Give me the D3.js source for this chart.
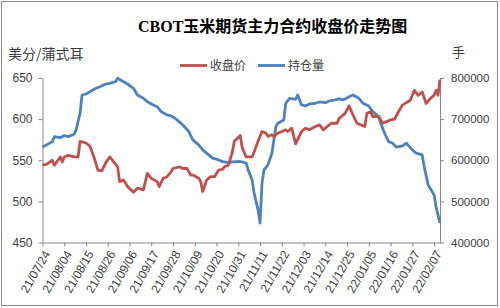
<!DOCTYPE html>
<html>
<head>
<meta charset="utf-8">
<script src="https://cdnjs.cloudflare.com/ajax/libs/d3/7.8.5/d3.min.js"></script>
<style>
    body { margin: 0; background: #fff; }
    svg { display: block; }
</style>
</head>
<body>
<svg id="chart"></svg>
<script>
// x axis tick labels (date axis, one tick every 11 days)
var tickLabels = ["21/07/24", "21/08/04", "21/08/15", "21/08/26", "21/09/06", "21/09/17", "21/09/28",
    "21/10/09", "21/10/20", "21/10/31", "21/11/11", "21/11/22", "21/12/03", "21/12/14", "21/12/25",
    "22/01/05", "22/01/16", "22/01/27", "22/02/07"];

var priceTicks = [450, 500, 550, 600, 650];
var oiTicks = [400000, 500000, 600000, 700000, 800000];

var seriesNames = ["收盘价", "持仓量"];

// closing price, cents / bushel
var priceDates = ["2021-07-24", "2021-07-26", "2021-07-29", "2021-07-30", "2021-08-02", "2021-08-03", "2021-08-04",
    "2021-08-06", "2021-08-09", "2021-08-11", "2021-08-12", "2021-08-15", "2021-08-17", "2021-08-19", "2021-08-21",
    "2021-08-23", "2021-08-25", "2021-08-27", "2021-08-29", "2021-08-31", "2021-09-01", "2021-09-03", "2021-09-05",
    "2021-09-08", "2021-09-10", "2021-09-13", "2021-09-15", "2021-09-17", "2021-09-20", "2021-09-21", "2021-09-23",
    "2021-09-25", "2021-09-27", "2021-09-28", "2021-10-01", "2021-10-03", "2021-10-05", "2021-10-07", "2021-10-08",
    "2021-10-11", "2021-10-12", "2021-10-13", "2021-10-15", "2021-10-17", "2021-10-19", "2021-10-21", "2021-10-23",
    "2021-10-24", "2021-10-26", "2021-10-28", "2021-10-29", "2021-11-01", "2021-11-02", "2021-11-04", "2021-11-07",
    "2021-11-08", "2021-11-10", "2021-11-12", "2021-11-14", "2021-11-15", "2021-11-17", "2021-11-18", "2021-11-20",
    "2021-11-22", "2021-11-24", "2021-11-25", "2021-11-27", "2021-11-29", "2021-12-02", "2021-12-04", "2021-12-06",
    "2021-12-09", "2021-12-11", "2021-12-13", "2021-12-15", "2021-12-17", "2021-12-20", "2021-12-21", "2021-12-24",
    "2021-12-26", "2021-12-28", "2021-12-30", "2022-01-01", "2022-01-03", "2022-01-04", "2022-01-06", "2022-01-07",
    "2022-01-10", "2022-01-12", "2022-01-14", "2022-01-16", "2022-01-18", "2022-01-20", "2022-01-22", "2022-01-24",
    "2022-01-26", "2022-01-27", "2022-01-28", "2022-01-30", "2022-02-01", "2022-02-03", "2022-02-05", "2022-02-07",
    "2022-02-08", "2022-02-09", "2022-02-10"];
var priceValues = [544, 545, 550, 544, 554, 548, 554,
    556, 554, 554, 573, 571, 567, 554, 538,
    537, 547, 554, 548, 542, 524, 526, 518,
    511, 516, 514, 534, 528, 524, 518, 528,
    530, 536, 540, 542, 540, 540, 532, 532,
    528, 524, 512, 526, 530, 530, 538, 539,
    542, 544, 560, 573, 580, 565, 554, 554,
    560, 573, 585, 583, 579, 581, 579, 583,
    585, 587, 585, 589, 570, 585, 589, 587,
    591, 593, 587, 591, 595, 595, 601, 607,
    616, 605, 595, 593, 591, 607, 609, 603,
    603, 595, 597, 599, 600, 609, 617, 620,
    623, 629, 635, 629, 633, 619, 625, 629,
    635, 629, 648];

// open interest, lots
var oiDates = ["2021-07-24", "2021-07-26", "2021-07-29", "2021-07-30", "2021-08-02", "2021-08-04", "2021-08-06",
    "2021-08-09", "2021-08-10", "2021-08-12", "2021-08-13", "2021-08-15", "2021-08-17", "2021-08-20", "2021-08-22",
    "2021-08-25", "2021-08-27", "2021-08-30", "2021-08-31", "2021-09-03", "2021-09-05", "2021-09-08", "2021-09-10",
    "2021-09-13", "2021-09-15", "2021-09-18", "2021-09-20", "2021-09-22", "2021-09-25", "2021-09-27", "2021-09-29",
    "2021-10-01", "2021-10-03", "2021-10-06", "2021-10-08", "2021-10-11", "2021-10-13", "2021-10-16", "2021-10-18",
    "2021-10-21", "2021-10-23", "2021-10-26", "2021-10-28", "2021-11-01", "2021-11-04", "2021-11-05", "2021-11-07",
    "2021-11-08", "2021-11-10", "2021-11-11", "2021-11-12", "2021-11-13", "2021-11-15", "2021-11-17", "2021-11-19",
    "2021-11-20", "2021-11-23", "2021-11-24", "2021-11-26", "2021-11-29", "2021-11-30", "2021-12-02", "2021-12-04",
    "2021-12-06", "2021-12-09", "2021-12-11", "2021-12-14", "2021-12-16", "2021-12-19", "2021-12-21", "2021-12-23",
    "2021-12-26", "2021-12-28", "2021-12-31", "2022-01-02", "2022-01-05", "2022-01-07", "2022-01-10", "2022-01-11",
    "2022-01-13", "2022-01-15", "2022-01-17", "2022-01-19", "2022-01-22", "2022-01-24", "2022-01-27", "2022-01-29",
    "2022-02-01", "2022-02-02", "2022-02-04", "2022-02-06", "2022-02-07", "2022-02-08", "2022-02-10"];
var oiValues = [631700, 637300, 645300, 657400, 655000, 659900, 657400,
    663300, 673700, 714300, 758700, 761100, 766700, 775000, 778900,
    785400, 787100, 791000, 799300, 791000, 785400, 775000, 758700,
    750700, 742400, 734400, 730300, 718200, 710100, 707700, 702100,
    693900, 685800, 669600, 649400, 637300, 625100, 613000, 605000,
    600800, 596700, 594300, 596000, 597000, 592800, 576600, 552300,
    520000, 479400, 447100, 544300, 576600, 588700, 617100, 681700,
    690000, 698000, 738600, 750700, 748300, 758700, 734400, 732000,
    736900, 738600, 741700, 740000, 744100, 746600, 749000, 746600,
    754600, 758700, 750700, 738600, 732000, 718200, 706000, 690000,
    665700, 645300, 641400, 631700, 634800, 641400, 625100, 617100,
    613000, 584600, 540100, 523900, 515800, 487400, 447100];

var width = 500,
    height = 308,
    plot = {"left": 42.5, "right": 440, "top": 78, "bottom": 242.5},
    red = "#c0504d",
    blue = "#4f81bd",
    axisColor = "#868686",
    textColor = "#404040";

var parseDay = d3.timeParse("%Y-%m-%d"),
    parseTick = d3.timeParse("%y/%m/%d");

var priceData = priceDates.map(function(d, i) {
    return {"date": parseDay(d), "value": priceValues[i]};
});
var oiData = oiDates.map(function(d, i) {
    return {"date": parseDay(d), "value": oiValues[i]};
});
var tickDates = tickLabels.map(function(d) {
    return parseTick(d);
});

var svg = d3.select("svg#chart")
    .attr("width", width)
    .attr("height", height);

svg.append("rect")
    .attr("x", 1.5)
    .attr("y", 1.5)
    .attr("width", 496)
    .attr("height", 304)
    .attr("fill", "#fff")
    .attr("stroke", "#8a8a8a");

var x = d3.scaleTime()
    .domain([parseDay("2021-07-24"), parseDay("2022-02-10")])
    .range([plot.left, plot.right]);

var yPrice = d3.scaleLinear()
    .domain([450, 650])
    .range([plot.bottom, plot.top]);

var yOi = d3.scaleLinear()
    .domain([400000, 800000])
    .range([plot.bottom, plot.top]);

function styleAxis(g, size) {
    g.select(".domain").attr("stroke", axisColor);
    g.selectAll(".tick line").attr("stroke", axisColor);
    g.selectAll(".tick text")
        .attr("fill", textColor)
        .style("font-family", "'Liberation Sans', Arial, sans-serif")
        .style("font-size", size + "px");
}

svg.append("g")
    .attr("transform", "translate(" + [plot.left, 0] + ")")
    .call(d3.axisLeft(yPrice).tickValues(priceTicks).tickSize(4).tickSizeOuter(0).tickPadding(6))
    .call(styleAxis, 12);

svg.append("g")
    .attr("transform", "translate(" + [plot.right, 0] + ")")
    .call(d3.axisRight(yOi)
        .tickValues(oiTicks)
        .tickFormat(d3.format("d"))
        .tickSize(4)
        .tickSizeOuter(0)
        .tickPadding(7))
    .call(styleAxis, 11.5);

var xAxis = svg.append("g")
    .attr("transform", "translate(" + [0, plot.bottom] + ")")
    .call(d3.axisBottom(x)
        .tickValues(tickDates)
        .tickFormat(function(d, i) { return tickLabels[i]; })
        .tickSize(4)
        .tickSizeOuter(0))
    .call(styleAxis, 12);

xAxis.selectAll(".tick text")
    .attr("x", 0)
    .attr("y", 0)
    .attr("dy", "0.35em")
    .attr("text-anchor", "end")
    .attr("transform", "translate(4,9) rotate(-60)");

var line = function(scale) {
    return d3.line()
        .x(function(d) { return x(d.date); })
        .y(function(d) { return scale(d.value); });
};

svg.append("path")
    .datum(oiData)
    .attr("fill", "none")
    .attr("stroke", blue)
    .attr("stroke-width", 2.8)
    .attr("stroke-linejoin", "round")
    .attr("d", line(yOi));

svg.append("path")
    .datum(priceData)
    .attr("fill", "none")
    .attr("stroke", red)
    .attr("stroke-width", 2.8)
    .attr("stroke-linejoin", "round")
    .attr("d", line(yPrice));

// title and units
svg.append("text")
    .attr("x", 138)
    .attr("y", 32)
    .attr("fill", "#000")
    .style("font-family", "'Liberation Serif', 'Noto Sans CJK SC', serif")
    .style("font-weight", "bold")
    .style("font-size", "16px")
    .text("CBOT玉米期货主力合约收盘价走势图");

svg.append("text")
    .attr("x", 8)
    .attr("y", 59)
    .attr("fill", textColor)
    .style("font-family", "'Noto Sans CJK SC', sans-serif")
    .style("font-size", "14px")
    .text("美分/蒲式耳");

svg.append("text")
    .attr("x", 452)
    .attr("y", 57)
    .attr("fill", textColor)
    .style("font-family", "'Noto Sans CJK SC', sans-serif")
    .style("font-size", "13px")
    .text("手");

// legend
var legend = svg.selectAll("g.legend")
    .data(seriesNames)
    .enter()
    .append("g")
        .attr("class", "legend")
        .attr("transform", function(d, i) {
            return "translate(" + [180 + i * 78, 65.5] + ")";
        });

legend.append("line")
    .attr("x1", 0)
    .attr("x2", 27)
    .attr("stroke", function(d, i) { return i === 0 ? red : blue; })
    .attr("stroke-width", 2.8);

legend.append("text")
    .attr("x", 30)
    .attr("dy", "0.38em")
    .attr("fill", textColor)
    .style("font-family", "'Noto Sans CJK SC', sans-serif")
    .style("font-size", "12px")
    .text(function(d) { return d; });
</script>
</body>
</html>
